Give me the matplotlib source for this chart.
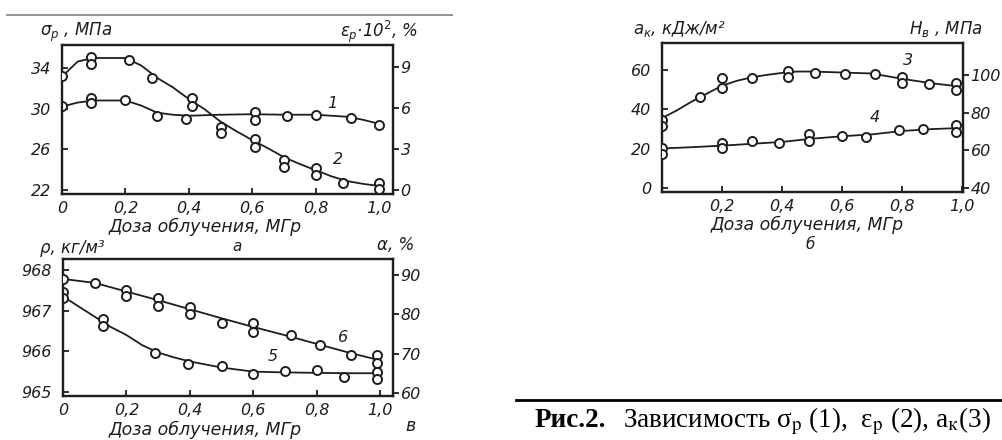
import matplotlib
matplotlib.use('Agg')
import matplotlib.pyplot as plt
from matplotlib.lines import Line2D

W, H = 1003, 440

# ---------------- Panel "а": sigma_p (1, left axis), eps_p (2, right axis)
dose_1_pts = [0.0, 0.09, 0.09, 0.20, 0.30, 0.39, 0.61, 0.61, 0.71, 0.80, 0.91, 1.00]
sigma_pts = [30.26, 31.05, 30.55, 30.85, 29.3, 29.0, 29.7, 28.9, 29.3, 29.4, 29.1, 28.4]
dose_1_line = [0.0, 0.05, 0.10, 0.20, 0.25, 0.30, 0.35, 0.40, 0.50, 0.60, 0.70, 0.80, 0.90, 0.95, 1.00]
sigma_line = [30.2, 30.6, 30.8, 30.8, 30.3, 29.6, 29.4, 29.3, 29.4, 29.45, 29.4, 29.4, 29.2, 28.9, 28.5]

dose_2_pts = [0.0, 0.09, 0.09, 0.21, 0.285, 0.41, 0.41, 0.50, 0.50, 0.61, 0.61,
              0.70, 0.70, 0.80, 0.80, 0.886, 1.00, 1.00]
eps_pts = [8.34, 9.73, 9.22, 9.5, 8.19, 6.73, 6.14, 4.61, 4.17, 3.73, 3.15,
           2.19, 1.68, 1.61, 1.1, 0.51, 0.51, 0.07]
dose_2_line = [0.0, 0.05, 0.10, 0.20, 0.25, 0.30, 0.35, 0.40, 0.45, 0.50, 0.55,
               0.60, 0.65, 0.70, 0.75, 0.80, 0.85, 0.90, 0.95, 1.00]
eps_line = [8.3, 9.4, 9.65, 9.65, 9.1, 8.2, 7.5, 6.65, 5.9, 5.0, 4.3,
            3.65, 3.05, 2.4, 1.9, 1.45, 1.0, 0.65, 0.45, 0.3]

# ---------------- Panel "б": a_k (3, left axis), H_B (4, right axis)
dose_3_pts = [0.0, 0.0, 0.127, 0.20, 0.20, 0.30, 0.42, 0.42, 0.51, 0.61, 0.71, 0.80, 0.80, 0.89, 0.98, 0.98]
ak_pts = [34.6, 31.5, 46.3, 50.8, 55.9, 55.9, 59.5, 56.4, 58.5, 58.0, 58.0, 56.4, 53.4, 52.9, 53.4, 49.8]
dose_3_line = [0.0, 0.05, 0.10, 0.15, 0.20, 0.25, 0.30, 0.35, 0.40, 0.45, 0.50, 0.60, 0.70, 0.80, 0.90, 0.98]
ak_line = [35.5, 39.5, 44.0, 48.0, 52.0, 54.5, 56.3, 57.5, 58.5, 59.2, 59.2, 58.7, 58.2, 55.5, 53.2, 51.8]

dose_4_pts = [0.0, 0.0, 0.20, 0.20, 0.30, 0.39, 0.49, 0.49, 0.60, 0.68, 0.79, 0.87, 0.98, 0.98]
hb_pts = [61.2, 58.1, 63.9, 61.2, 65.0, 63.9, 68.7, 65.0, 67.6, 67.1, 70.8, 71.3, 73.5, 69.7]
dose_4_line = [0.0, 0.10, 0.20, 0.30, 0.40, 0.50, 0.60, 0.70, 0.80, 0.90, 0.98]
hb_line = [61.0, 61.7, 62.5, 63.5, 64.5, 66.2, 67.5, 68.5, 70.3, 71.3, 71.8]

# ---------------- Panel "в": rho (5, left axis), alpha (6, right axis)
dose_5_pts = [0.0, 0.0, 0.126, 0.126, 0.29, 0.395, 0.50, 0.60, 0.70, 0.80, 0.885, 0.99, 0.99]
rho_pts = [967.46, 967.31, 966.79, 966.62, 965.96, 965.69, 965.64, 965.44, 965.52, 965.54, 965.37, 965.49, 965.32]
dose_5_line = [0.0, 0.05, 0.10, 0.15, 0.20, 0.25, 0.30, 0.35, 0.40, 0.50, 0.60, 0.70, 0.80, 0.90, 1.00]
rho_line = [967.35, 967.1, 966.85, 966.6, 966.4, 966.15, 965.97, 965.85, 965.75, 965.6, 965.5, 965.48, 965.47, 965.46, 965.46]

dose_6_pts = [0.0, 0.10, 0.20, 0.20, 0.30, 0.30, 0.40, 0.40, 0.50, 0.60, 0.60, 0.72, 0.81, 0.91, 0.99, 0.99]
alpha_pts = [89.0, 88.0, 86.2, 84.7, 84.2, 82.1, 81.9, 80.1, 77.8, 77.8, 75.5, 74.8, 72.2, 69.7, 69.7, 67.6]
dose_6_line = [0.0, 0.10, 0.20, 0.30, 0.40, 0.50, 0.60, 0.70, 0.80, 0.90, 1.00]
alpha_line = [89.0, 88.0, 85.8, 83.6, 81.3, 79.0, 76.8, 74.7, 72.5, 70.3, 68.3]

x_ticks = [0.0, 0.2, 0.4, 0.6, 0.8, 1.0]
x_ticklabels = ['0', '0,2', '0,4', '0,6', '0,8', '1,0']
xlabel_text = 'Доза облучения, МГр'

INK = '#1e1e1e'
FONT = 'DejaVu Sans'
TFS = 11.5
XLFS = 12.5

plt.rcParams['font.family'] = [FONT]

fig = plt.figure(figsize=(W / 100, H / 100), dpi=100)
fig.patch.set_facecolor('white')


def fx(px):
    return px / W


def fy(py):
    return 1 - py / H


def style(ax, ax2, xt, xtl):
    for a in (ax, ax2):
        for s in a.spines.values():
            s.set_linewidth(1.6)
            s.set_color(INK)
    ax.set_xticks(xt)
    ax.set_xticklabels(xtl, fontsize=TFS, style='italic', color=INK)
    ax.tick_params(axis='x', direction='in', length=4, width=1.3, pad=5, colors=INK)
    ax.tick_params(axis='y', direction='in', length=4, width=1.3, pad=8, colors=INK,
                   labelsize=TFS)
    ax2.tick_params(axis='y', direction='out', length=4, width=1.3, pad=1.5, colors=INK,
                    labelsize=TFS)
    for lab in ax.get_yticklabels() + ax2.get_yticklabels():
        lab.set_style('italic')
    ax.patch.set_alpha(0)


def draw(ax, xl, yl, xp, yp):
    ax.plot(xl, yl, color=INK, lw=1.3, zorder=2, solid_capstyle='round')
    ax.plot(xp, yp, ls='none', marker='o', ms=6.5, mfc='white', mec=INK, mew=1.4, zorder=3)


# ---- panel а
axA = fig.add_axes([fx(62), fy(194), fx(331), 149 / H])
axA2 = axA.twinx()
axA.set_xlim(0, 1.044)
axA.set_ylim(21.6, 36.26)
axA2.set_ylim(-0.29, 10.6)
axA.set_yticks([22, 26, 30, 34])
axA2.set_yticks([0, 3, 6, 9])
style(axA, axA2, x_ticks, x_ticklabels)
draw(axA, dose_1_line, sigma_line, dose_1_pts, sigma_pts)
draw(axA2, dose_2_line, eps_line, dose_2_pts, eps_pts)
axA.text(0.852, 30.55, '1', fontsize=TFS, style='italic', color=INK, ha='center', va='center')
axA2.text(0.87, 2.2, '2', fontsize=TFS, style='italic', color=INK, ha='center', va='center')

# ---- panel в
axV = fig.add_axes([fx(63), fy(396), fx(330), 137 / H])
axV2 = axV.twinx()
axV.set_xlim(0, 1.041)
axV.set_ylim(964.90, 968.27)
axV2.set_ylim(59.24, 94.07)
axV.set_yticks([965, 966, 967, 968])
axV2.set_yticks([60, 70, 80, 90])
style(axV, axV2, x_ticks, x_ticklabels)
draw(axV, dose_5_line, rho_line, dose_5_pts, rho_pts)
draw(axV2, dose_6_line, alpha_line, dose_6_pts, alpha_pts)
axV.text(0.662, 965.86, '5', fontsize=TFS, style='italic', color=INK, ha='center', va='center')
axV2.text(0.883, 74.0, '6', fontsize=TFS, style='italic', color=INK, ha='center', va='center')

# ---- panel б
axB = fig.add_axes([fx(662), fy(192), fx(301), 149 / H])
axB2 = axB.twinx()
axB.set_xlim(0, 1.003)
axB.set_ylim(-2.03, 73.7)
axB2.set_ylim(37.9, 117.0)
axB.set_yticks([0, 20, 40, 60])
axB2.set_yticks([40, 60, 80, 100])
style(axB, axB2, x_ticks[1:], x_ticklabels[1:])
draw(axB, dose_3_line, ak_line, dose_3_pts, ak_pts)
draw(axB2, dose_4_line, hb_line, dose_4_pts, hb_pts)
axB.text(0.82, 65.0, '3', fontsize=TFS, style='italic', color=INK, ha='center', va='center')
axB2.text(0.71, 77.2, '4', fontsize=TFS, style='italic', color=INK, ha='center', va='center')

# ---- axis titles and labels (figure coordinates)
lab_kw = dict(fontsize=TFS + 0.5, style='italic', color=INK)
xl_kw = dict(fontsize=XLFS, style='italic', color=INK, ha='center', va='center')
pl_kw = dict(fontsize=11, style='italic', color=INK, ha='center', va='center')
fig.text(fx(40), fy(32), r'$\sigma_p$ , МПа', ha='left', va='center', **lab_kw)
fig.text(fx(418), fy(32), r'$\varepsilon_p$·10$^2$, %', ha='right', va='center', **lab_kw)
fig.text(fx(205), fy(227), xlabel_text, **xl_kw)
fig.text(fx(237), fy(246), 'а', **pl_kw)

fig.text(fx(40), fy(248), 'ρ, кг/м³', ha='left', va='center', **lab_kw)
fig.text(fx(377), fy(245), 'α, %', ha='left', va='center', **lab_kw)
fig.text(fx(205), fy(430), xlabel_text, **xl_kw)
fig.text(fx(410), fy(426), 'в', **xl_kw)

fig.text(fx(633), fy(29), r'$a_к$, кДж/м²', ha='left', va='center', **lab_kw)
fig.text(fx(983), fy(29), r'$H_в$ , МПа', ha='right', va='center', **lab_kw)
fig.text(fx(807), fy(225), xlabel_text, **xl_kw)
fig.text(fx(810), fy(244), 'б', **pl_kw)

# ---- decorative rules
fig.add_artist(Line2D([fx(7), fx(452)], [fy(15), fy(15)], color='#8a8a8a', lw=1.3))
fig.add_artist(Line2D([fx(516), fx(1003)], [fy(400), fy(400)], color='black', lw=2.0))

# ---- caption
fig.text(fx(535), fy(427), 'Рис.2.', ha='left', va='baseline', fontsize=19.5,
         family='Liberation Serif', weight='bold', color='black')
fig.text(fx(623), fy(427),
         r'Зависимость σ$_{\rm p}$ (1),  ε$_{\rm p}$ (2), a$_{\rm к}$(3)',
         ha='left', va='baseline', fontsize=19.5, family='Liberation Serif', color='black',
         math_fontfamily='stix')

fig.savefig('out.png', dpi=100, facecolor='white')
